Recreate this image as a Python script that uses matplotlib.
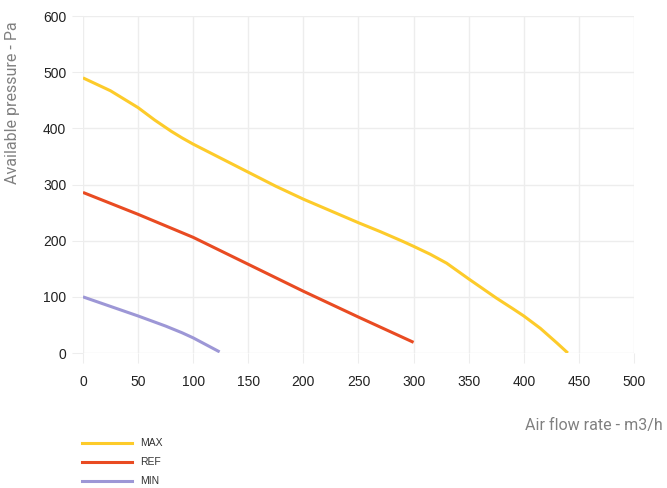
import matplotlib.pyplot as plt
import numpy as np

# fan curves
max_flow = [0, 25, 50, 65, 80, 90, 100, 125, 150, 175, 200, 225, 250, 270, 290, 300, 315, 330,
            350, 375, 390, 400, 415, 430, 440]
max_pres = [490, 467, 437, 415, 395, 383, 372, 347, 322, 297, 274, 253, 232, 216, 199, 190, 176, 160,
            132, 98, 79, 66, 44, 18, 0]

ref_flow = [0, 50, 100, 150, 200, 250, 300]
ref_pres = [286, 247, 206, 158, 110, 64, 19]

min_flow = [0, 25, 50, 75, 90, 100, 124]
min_pres = [100, 83, 66, 48, 36, 27, 2]

series = [("MAX", max_flow, max_pres, "#FDCB2A"),
          ("REF", ref_flow, ref_pres, "#E94B22"),
          ("MIN", min_flow, min_pres, "#9D97D6")]

fig = plt.figure(figsize=(6.67, 4.88), dpi=100)
ax = fig.add_axes([0.1244, 0.2766, 0.8261, 0.6904])

grid_c = "#EDEDED"
for name, x, y, c in series:
    ax.plot(x, y, color=c, lw=2.2, label=name, solid_capstyle="butt", solid_joinstyle="round")

ax.set_xlim(0, 500)
ax.set_ylim(0, 600)
ax.set_xticks(np.arange(0, 501, 50))
ax.set_yticks(np.arange(0, 601, 100))
ax.grid(True, color=grid_c, lw=1)
ax.set_axisbelow(True)
for s in ax.spines.values():
    s.set_visible(False)
ax.tick_params(axis="x", length=7, color=grid_c, pad=9, labelsize=10, labelcolor="#222222")
ax.tick_params(axis="y", length=8, color=grid_c, pad=4, labelsize=10, labelcolor="#222222")
for lab in ax.get_xticklabels() + ax.get_yticklabels():
    lab.set_family("Liberation Sans")

fig.text(0.018, 0.79, "Available pressure - Pa", rotation=90, ha="center", va="center",
         fontsize=11.5, color="#808080", family="Roboto")
fig.text(0.994, 0.129, "Air flow rate - m3/h", ha="right", va="center",
         fontsize=11.5, color="#808080", family="Roboto")

# legend drawn by hand at the bottom left
for i, (name, x, y, c) in enumerate(series):
    yy = 1 - (443 + 19 * i) / 488
    fig.add_artist(plt.Line2D([82 / 667, 132 / 667], [yy, yy], color=c, lw=2.2))
    fig.text(140 / 667, yy, name, ha="left", va="center", fontsize=7.5,
             color="#333333", family="Liberation Sans")

fig.savefig("out.png", dpi=100)
